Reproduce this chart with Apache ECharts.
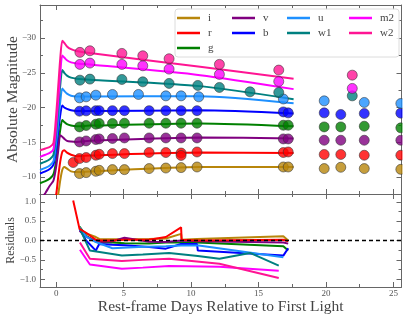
<!DOCTYPE html>
<html><head><meta charset="utf-8">
<script src="https://cdn.jsdelivr.net/npm/echarts@6/dist/echarts.min.js"></script>
<style>html,body{margin:0;padding:0;background:#fff}#c{width:407px;height:318px}</style>
</head><body><div id="c"></div>
<script>
// ---------- data ----------
const bands = ['i','r','g','v','b','u','w1','m2','w2'];
const colors = {i:'#b8860b', r:'#ff0000', g:'#008000', v:'#800080', b:'#0000ff', u:'#1e90ff', w1:'#008080', m2:'#ff00ff', w2:'#ff1493'};

// model curves (shared time grid)
const modelT = [-1.2,-0.8,-0.45,-0.2,0.0,0.15,0.3,0.45,0.6,0.8,1.1,1.5,2.5,10.67,17.6];
const model_w2 = [-13.85,-14.1,-14.35,-14.9,-19.0,-23.0,-27.0,-29.6,-29.3,-28.8,-28.4,-28.15,-27.85,-25.86,-24.15];
const model_m2 = [-12.9,-13.2,-13.5,-14.0,-17.5,-21.0,-24.8,-27.5,-27.2,-26.8,-26.5,-26.35,-26.2,-24.66,-22.65];
const model_w1 = [-11.9,-12.2,-12.6,-13.2,-16.5,-19.8,-23.2,-25.4,-25.0,-24.6,-24.3,-24.15,-24.0,-23.08,-21.2];
const model_u  = [-11.0,-11.3,-11.7,-12.3,-15.0,-17.8,-20.8,-22.75,-22.4,-22.0,-21.7,-21.6,-21.6,-21.64,-20.6];
const model_b  = [-10.5,-10.8,-11.2,-11.8,-14.0,-16.5,-18.9,-20.3,-20.0,-19.8,-19.6,-19.5,-19.5,-19.6,-19.15];
const model_g  = [-9.1,-9.4,-9.8,-10.4,-12.3,-14.6,-16.8,-18.2,-17.9,-17.6,-17.4,-17.3,-17.4,-17.7,-17.3];
const model_v  = [-6.5,-7.7,-8.8,-9.5,-11.5,-13.8,-16.0,-15.8,-15.5,-15.2,-15.1,-15.05,-15.2,-15.68,-15.55];
const model_r  = [-3,-4,-5,-6,-7.5,-10,-12.2,-13.6,-13.85,-13.5,-13.2,-13.0,-13.1,-13.52,-13.45];
const model_i  = [-2,-3,-4,-5,-6.5,-7.5,-9.5,-11.0,-11.45,-11.2,-10.8,-10.7,-10.8,-11.45,-11.45];

// observed photometry
const tUV  = [1.76,2.5,4.87,6.42,8.37,12.1,16.5,21.95];
const tW1  = [1.76,2.5,4.87,6.42,8.37,10.5,12.1,14.37,16.5,21.95];
const tU   = [1.73,2.22,2.94,4.17,6.1,8.13,9.26,10.57,16.84,19.87,22.84,25.55];
const tOpt = [1.73,2.22,2.94,3.19,4.17,5.06,6.89,8.13,9.26,10.44,16.84,17.2,19.87,21.1,22.84,25.55];
const tR   = [1.26,1.73,2.22,2.94,3.19,4.17,5.06,6.89,8.13,9.26,9.26,10.44,16.84,17.2,19.87,21.1,22.84,25.55];
const obs_w2 = [-27.94,-28.17,-27.79,-27.45,-27.02,-26.21,-25.39,-24.66];
const obs_m2 = [-26.21,-26.40,-26.21,-26.01,-25.53,-24.77,-23.75,-22.75];
const obs_w1 = [-23.94,-24.09,-24.04,-23.70,-23.47,-23.18,-22.89,-22.26,-22.17,-21.68];
const obs_u  = [-21.39,-21.54,-21.78,-21.88,-21.88,-21.68,-21.68,-21.54,-21.23,-20.96,-20.73,-20.58];
const obs_b  = [-19.47,-19.52,-19.55,-19.55,-19.55,-19.55,-19.55,-19.55,-19.55,-19.55,-19.37,-19.23,-19.23,-19.0,-19.14,-19.19];
const obs_g  = [-17.21,-17.41,-17.60,-17.70,-17.70,-17.74,-17.74,-17.74,-17.74,-17.74,-17.45,-17.45,-17.21,-17.21,-17.31,-17.07];
const obs_v  = [-15.05,-15.19,-15.39,-15.48,-15.54,-15.62,-15.62,-15.62,-15.62,-15.62,-15.48,-15.48,-15.29,-15.29,-15.29,-15.29];
const obs_r  = [-12.08,-12.65,-12.80,-13.13,-13.27,-13.37,-13.37,-13.52,-13.52,-13.45,-13.10,-13.60,-13.52,-13.60,-13.24,-13.24,-13.13,-13.13];
const obs_i  = [-10.49,-10.63,-10.82,-10.96,-11.06,-11.06,-11.21,-11.29,-11.35,-11.44,-11.44,-11.44,-11.21,-11.40,-11.21,-11.10];

// residuals
const resT_i  = [1.73,2.22,2.94,3.19,4.17,5.06,6.89,8.13,9.26,9.3,10.44,16.84,17.2];
const res_i   = [0.30,0.18,0.09,0.04,0.03,0.03,0.04,0.05,0.17,0.02,0.04,0.11,0.0];
const resT_r  = [1.26,1.73,2.22,2.94,3.19,4.17,5.06,6.89,8.13,9.26,9.3,10.44,16.84,17.2];
const res_r   = [1.03,0.30,0.20,0.02,0.0,0.0,0.02,0.02,0.09,0.34,0.02,0.0,0.02,-0.02];
const resT_g  = [1.73,2.22,2.94,3.19,4.17,5.06,6.89,8.13,9.26,10.44,16.84,17.2];
const res_g   = [0.36,0.12,-0.03,-0.05,-0.05,-0.07,-0.08,-0.05,-0.05,-0.05,-0.15,-0.26];
const resT_v  = [1.73,2.22,2.94,3.19,4.17,5.06,6.89,8.13,9.26,10.44,16.84,17.2];
const res_v   = [0.25,0.10,-0.02,-0.04,-0.02,0.07,-0.03,-0.04,0.0,-0.02,-0.05,-0.08];
const resT_b  = [1.73,2.22,2.94,3.19,4.17,5.06,6.89,8.13,9.26,10.44,10.5,16.84,17.2];
const res_b   = [0.30,0.0,-0.26,-0.09,-0.11,-0.12,-0.17,-0.21,-0.09,-0.09,-0.26,-0.39,-0.20];
const resT_u  = [1.73,2.22,2.94,4.17,6.1,8.13,9.26,10.57,16.84];
const res_u   = [0.34,0.10,-0.04,-0.20,-0.17,-0.15,-0.13,-0.13,-0.43];
const resT_w1 = [1.76,2.5,4.87,6.42,8.37,10.5,12.1,14.37,16.5];
const res_w1  = [0.30,-0.26,-0.39,-0.36,-0.32,-0.40,-0.47,-0.32,-0.65];
const resT_m2 = [1.76,2.5,4.87,6.42,8.37,12.1,16.5];
const res_m2  = [-0.24,-0.62,-0.73,-0.70,-0.66,-0.68,-0.78];
const resT_w2 = [1.76,2.5,4.87,6.42,8.37,12.1,16.5];
const res_w2  = [-0.05,-0.47,-0.53,-0.50,-0.47,-0.60,-0.97];

// axes
const XMIN = -1.2, XMAX = 25.6;
const xMajor = [0,5,10,15,20,25];
const xMinor = [2.5,7.5,12.5,17.5,22.5];
const YMIN = -34.76, YMAX = -7.55;
const yMajor = [-30,-25,-20,-15,-10];
const yMinor = [-32.5,-27.5,-22.5,-17.5,-12.5];
const RMIN = -1.2, RMAX = 1.2;
const rMajor = [-1,-0.5,0,0.5,1];
const rMinor = [-0.75,-0.25,0.25,0.75];

const models = {i:model_i,r:model_r,g:model_g,v:model_v,b:model_b,u:model_u,w1:model_w1,m2:model_m2,w2:model_w2};
const obsT = {i:tOpt,r:tR,g:tOpt,v:tOpt,b:tOpt,u:tU,w1:tW1,m2:tUV,w2:tUV};
const obs = {i:obs_i,r:obs_r,g:obs_g,v:obs_v,b:obs_b,u:obs_u,w1:obs_w1,m2:obs_m2,w2:obs_w2};
const resT = {i:resT_i,r:resT_r,g:resT_g,v:resT_v,b:resT_b,u:resT_u,w1:resT_w1,m2:resT_m2,w2:resT_w2};
const resV = {i:res_i,r:res_r,g:res_g,v:res_v,b:res_b,u:res_u,w1:res_w1,m2:res_m2,w2:res_w2};

// ---------- chart ----------
const FONT = '"Liberation Serif","DejaVu Serif",serif';
const LINE = '#666', TXT = '#555';
const fmtNum = (v, d) => { const s = Math.abs(v).toFixed(d); return (v < 0 ? '\u2212' : '') + s; };
const zip = (a, b) => a.map((x, k) => [x, b[k]]);

function ax(kind, gi, pos, min, max, vals, len, showLine, label, extra) {
  const a = {
    type: 'value', gridIndex: gi, position: pos, min: min, max: max, scale: true,
    axisLine: {show: showLine, onZero: false, lineStyle: {color: LINE, width: 1}},
    axisTick: {show: true, inside: true, length: len, customValues: vals, lineStyle: {color: LINE, width: 1}},
    axisLabel: label ? Object.assign({show: true, customValues: vals, color: TXT, fontFamily: FONT, fontSize: 9}, label) : {show: false},
    splitLine: {show: false}, minorTick: {show: false}, nameMoveOverlap: false
  };
  return Object.assign(a, extra || {});
}

const xAxis = [
  ax('x',0,'bottom',XMIN,XMAX,xMajor,5,true,null),
  ax('x',0,'top',XMIN,XMAX,xMajor,5,true,null),
  ax('x',0,'bottom',XMIN,XMAX,xMinor,3,false,null),
  ax('x',0,'top',XMIN,XMAX,xMinor,3,false,null),
  ax('x',1,'bottom',XMIN,XMAX,xMajor,5,true,{margin:2, formatter:v=>String(v)},
     {name:'Rest-frame Days Relative to First Light', nameLocation:'middle', nameGap:12,
      nameTextStyle:{fontFamily:FONT, fontSize:15.5, color:'#444'}}),
  ax('x',1,'top',XMIN,XMAX,xMajor,5,true,null),
  ax('x',1,'bottom',XMIN,XMAX,xMinor,3,false,null),
  ax('x',1,'top',XMIN,XMAX,xMinor,3,false,null)
];
const yAxis = [
  ax('y',0,'left',YMIN,YMAX,yMajor,5,true,{margin:4, formatter:v=>fmtNum(v,0)},
     {inverse:true, name:'Absolute Magnitude', nameLocation:'middle', nameGap:19, nameRotate:90,
      nameTextStyle:{fontFamily:FONT, fontSize:15.5, color:'#444'}}),
  ax('y',0,'right',YMIN,YMAX,yMajor,5,true,null,{inverse:true}),
  ax('y',0,'left',YMIN,YMAX,yMinor,3,false,null,{inverse:true}),
  ax('y',0,'right',YMIN,YMAX,yMinor,3,false,null,{inverse:true}),
  ax('y',1,'left',RMIN,RMAX,rMajor,5,true,{margin:4, formatter:v=>fmtNum(v,1)},
     {name:'Residuals', nameLocation:'middle', nameGap:23, nameRotate:90,
      nameTextStyle:{fontFamily:FONT, fontSize:12, color:'#444'}}),
  ax('y',1,'right',RMIN,RMAX,rMajor,5,true,null),
  ax('y',1,'left',RMIN,RMAX,rMinor,3,false,null),
  ax('y',1,'right',RMIN,RMAX,rMinor,3,false,null)
];

const series = [];
bands.forEach(bd => {
  series.push({name: bd, type: 'line', xAxisIndex: 0, yAxisIndex: 0, data: zip(modelT, models[bd]),
    showSymbol: false, smooth: 0.25, color: colors[bd], lineStyle: {width: 2, color: colors[bd]}, z: 2, silent: true});
});
bands.forEach(bd => {
  series.push({name: bd + '_obs', type: 'scatter', xAxisIndex: 0, yAxisIndex: 0, data: zip(obsT[bd], obs[bd]),
    symbolSize: 10, itemStyle: {color: colors[bd], borderColor: '#333', borderWidth: 0.7}, z: 3, silent: true});
});
bands.forEach(bd => {
  series.push({name: bd + '_res', type: 'line', xAxisIndex: 4, yAxisIndex: 4, data: zip(resT[bd], resV[bd]),
    showSymbol: false, color: colors[bd], lineStyle: {width: 2, color: colors[bd]}, z: bd === 'r' ? 4 : 2, silent: true});
});
series.push({name: 'zero', type: 'line', xAxisIndex: 4, yAxisIndex: 4, data: [[XMIN, 0], [XMAX, 0]],
  showSymbol: false, lineStyle: {color: '#000', width: 1.3, type: [4, 3]}, z: 5, silent: true});

const legendCols = [['i','r','g'], ['v','b'], ['u','w1'], ['m2','w2']];
const legendX = [177, 232, 287, 349];
const legend = legendCols.map((col, k) => ({
  orient: 'vertical', left: legendX[k], top: 10.5, itemGap: 0, itemWidth: 23, itemHeight: 2.5,
  icon: 'rect', data: col, selectedMode: false, padding: 0,
  textStyle: {fontFamily: FONT, fontSize: 11, color: '#444', lineHeight: 15, padding: [0, 0, 0, 3]}
}));

const option = {
  animation: false,
  backgroundColor: '#fff',
  grid: [
    {left: 40, top: 5, width: 361.5, height: 189, outerBoundsMode: 'none', containLabel: false},
    {left: 40, top: 194, width: 361.5, height: 93, outerBoundsMode: 'none', containLabel: false}
  ],
  xAxis: xAxis, yAxis: yAxis, series: series, legend: legend,
  graphic: [
    {type: 'rect', shape: {x: 175, y: 9, width: 224, height: 48, r: 3}, z: 3,
     style: {fill: 'rgba(255,255,255,0.85)', stroke: '#dcdcdc', lineWidth: 1}},
    {type: 'rect', shape: {x: 402.5, y: 0, width: 10, height: 318}, z: 100, silent: true,
     style: {fill: '#fff', stroke: null}}
  ]
};
const chart = echarts.init(document.getElementById('c'), null, {renderer: 'canvas'});
chart.setOption(option);
</script></body></html>
